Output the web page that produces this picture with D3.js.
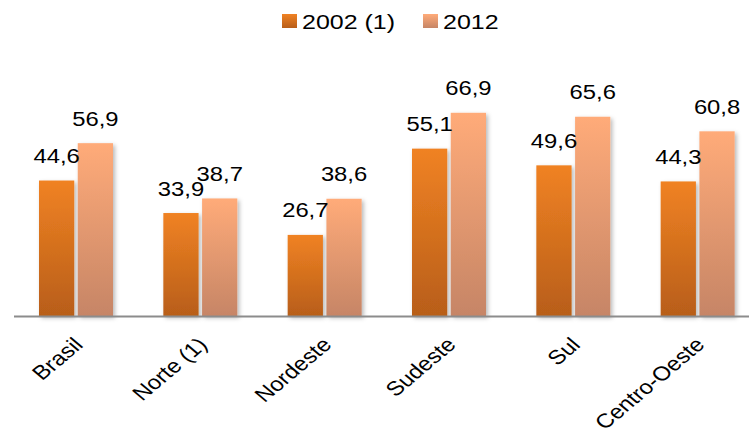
<!DOCTYPE html>
<html>
<head>
<meta charset="utf-8">
<script src="https://cdn.jsdelivr.net/npm/d3@7"></script>
<style>
  html, body { margin: 0; padding: 0; background: #ffffff; }
  svg { display: block; font-family: "Liberation Sans", Arial, sans-serif; }
</style>
</head>
<body>
<svg id="chart" width="749" height="445"></svg>
<script>
// Regions and the two survey years
const categories = ["Brasil", "Norte (1)", "Nordeste", "Sudeste", "Sul", "Centro-Oeste"];
const seriesNames = ["2002 (1)", "2012"];
const values2002 = [44.6, 33.9, 26.7, 55.1, 49.6, 44.3];
const values2012 = [56.9, 38.7, 38.6, 66.9, 65.6, 60.8];

const fmt = v => v.toFixed(1).replace(".", ",");

const svg = d3.select("#chart");
const W = 749, H = 445;
const baseY = 316;
const SX = 1.19; // text is drawn slightly widened

const x0 = d3.scaleBand().domain(categories).range([14, 760]).paddingInner(0).paddingOuter(0);
const x1 = d3.scaleBand().domain(seriesNames).range([25, 99]).paddingInner(0.09);
const y = d3.scaleLinear().domain([0, 80]).range([baseY, baseY - 243]);

// Gradients and a soft shadow for the bars
const defs = svg.append("defs");
const gradSpecs = [
  { id: "g2002", top: "#f08223", bottom: "#b85e19" },
  { id: "g2012", top: "#ffab79", bottom: "#c68566" }
];
gradSpecs.forEach(g => {
  const lg = defs.append("linearGradient").attr("id", g.id)
    .attr("x1", 0).attr("y1", 0).attr("x2", 0).attr("y2", 1);
  lg.append("stop").attr("offset", "0%").attr("stop-color", g.top);
  lg.append("stop").attr("offset", "100%").attr("stop-color", g.bottom);
});
const f = defs.append("filter").attr("id", "shadow")
  .attr("x", "-30%").attr("y", "-10%").attr("width", "160%").attr("height", "130%");
f.append("feDropShadow").attr("dx", 2).attr("dy", 2).attr("stdDeviation", 2.2)
  .attr("flood-color", "#000").attr("flood-opacity", 0.28);

const rows = categories.map((c, i) => ({ cat: c, vals: [values2002[i], values2012[i]] }));
const fills = ["url(#g2002)", "url(#g2012)"];

// Bars
const groups = svg.append("g").selectAll("g").data(rows).join("g")
  .attr("transform", d => `translate(${x0(d.cat)},0)`);

groups.selectAll("rect").data(d => d.vals.map((v, k) => ({ v, k })))
  .join("rect")
  .attr("x", d => x1(seriesNames[d.k]))
  .attr("width", x1.bandwidth())
  .attr("y", d => y(d.v))
  .attr("height", d => y(0) - y(d.v))
  .attr("fill", d => fills[d.k])
  .attr("filter", "url(#shadow)");

// Value labels
groups.selectAll("text.val").data(d => d.vals.map((v, k) => ({ v, k })))
  .join("text")
  .attr("class", "val")
  .attr("transform", d => `translate(${x1(seriesNames[d.k]) + x1.bandwidth() / 2},${y(d.v) - 17.5}) scale(${SX},1)`)
  .attr("text-anchor", "middle")
  .attr("font-size", 20)
  .attr("fill", "#000")
  .text(d => fmt(d.v));

// Category axis line
svg.append("line")
  .attr("x1", 14).attr("x2", W)
  .attr("y1", baseY + 0.5).attr("y2", baseY + 0.5)
  .attr("stroke", "#8c8c8c").attr("stroke-width", 2);

// Rotated category labels
svg.append("g").selectAll("text").data(categories).join("text")
  .attr("transform", d => `translate(${x0(d) + x0.bandwidth() / 2 + 8},${baseY + 30}) scale(${SX},1) rotate(-45)`)
  .attr("text-anchor", "end")
  .attr("font-size", 20)
  .attr("fill", "#000")
  .text(d => d);

// Legend
const legend = svg.append("g");
const legendItems = [
  { name: seriesNames[0], fill: fills[0], x: 282 },
  { name: seriesNames[1], fill: fills[1], x: 423 }
];
legendItems.forEach(it => {
  legend.append("rect").attr("x", it.x).attr("y", 14).attr("width", 15).attr("height", 14)
    .attr("fill", it.fill);
  legend.append("text")
    .attr("transform", `translate(${it.x + 20},28.5) scale(${SX},1)`)
    .attr("font-size", 21).attr("fill", "#000").text(it.name);
});
</script>
</body>
</html>
